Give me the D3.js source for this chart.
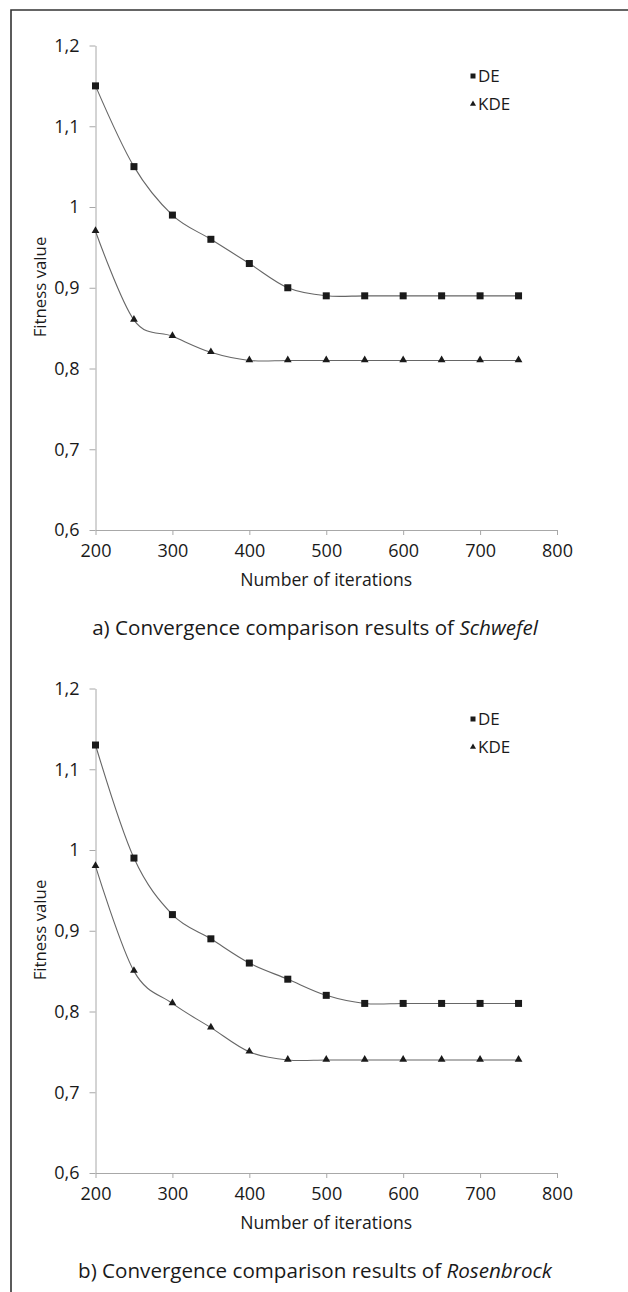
<!DOCTYPE html>
<html lang="en">
<head>
  <meta charset="UTF-8">
  <title>Convergence comparison</title>
  <script src="https://d3js.org/d3.v7.min.js"></script>
  <style>
    body { margin: 0; background: #fff; }
    svg text { font-family: "Open Sans", sans-serif; fill: #1a1a1a; }
  </style>
</head>
<body>
  <svg id="chart" width="628" height="1292"></svg>

  <script>
    // iterations shared by both panels
    const iterations = [200, 250, 300, 350, 400, 450, 500, 550, 600, 650, 700, 750];
    const xTicks = [200, 300, 400, 500, 600, 700, 800];
    const yTicks = [0.6, 0.7, 0.8, 0.9, 1.0, 1.1, 1.2];

    // a) Schwefel
    const schwefelDE  = [1.15, 1.05, 0.99, 0.96, 0.93, 0.90, 0.89, 0.89, 0.89, 0.89, 0.89, 0.89];
    const schwefelKDE = [0.97, 0.86, 0.84, 0.82, 0.81, 0.81, 0.81, 0.81, 0.81, 0.81, 0.81, 0.81];

    // b) Rosenbrock
    const rosenDE  = [1.13, 0.99, 0.92, 0.89, 0.86, 0.84, 0.82, 0.81, 0.81, 0.81, 0.81, 0.81];
    const rosenKDE = [0.98, 0.85, 0.81, 0.78, 0.75, 0.74, 0.74, 0.74, 0.74, 0.74, 0.74, 0.74];

    const svg = d3.select("#chart");

    // outer frame (top + left edges only)
    svg.append("path")
      .attr("d", "M11,1292 V10 H628")
      .attr("fill", "none").attr("stroke", "#333").attr("stroke-width", 1.6);

    const fmt = d => d3.format(".1~f")(d).replace(".", ",");

    function drawPanel(top, de, kde, caption, fname) {
      const g = svg.append("g").attr("transform", `translate(0,${top})`);
      const x = d3.scaleLinear().domain([200, 800]).range([95.5, 557]);
      const y = d3.scaleLinear().domain([0.6, 1.2]).range([530, 45.5]);

      // y axis
      const ya = g.append("g").attr("transform", `translate(${x(200)},0)`)
        .call(d3.axisLeft(y).tickValues(yTicks).tickFormat(fmt).tickSize(6).tickSizeOuter(0).tickPadding(10));
      // x axis
      const xa = g.append("g").attr("transform", `translate(0,${y(0.6)})`)
        .call(d3.axisBottom(x).tickValues(xTicks).tickSize(5).tickSizeOuter(0).tickPadding(9));
      [ya, xa].forEach(a => {
        a.select(".domain").attr("stroke", "#a8a8a8");
        a.selectAll(".tick line").attr("stroke", "#a8a8a8");
        a.selectAll(".tick text").style("font-size", "18px").attr("fill", "#1a1a1a");
      });

      const line = d3.line()
        .x((d, i) => x(iterations[i]))
        .y(d => y(d))
        .curve(d3.curveCatmullRom.alpha(0));

      [de, kde].forEach(s => {
        g.append("path").datum(s).attr("d", line)
          .attr("fill", "none").attr("stroke", "#666").attr("stroke-width", 1.1);
      });

      g.selectAll(".sq").data(de).join("rect")
        .attr("x", (d, i) => x(iterations[i]) - 3.5)
        .attr("y", d => y(d) - 3.5)
        .attr("width", 7).attr("height", 7).attr("fill", "#1a1a1a");

      const tri = d3.symbol().type(d3.symbolTriangle).size(26);
      g.selectAll(".tri").data(kde).join("path")
        .attr("d", tri)
        .attr("transform", (d, i) => `translate(${x(iterations[i])},${y(d) - 0.5})`)
        .attr("fill", "#1a1a1a");

      // legend
      g.append("rect").attr("x", 470.5).attr("y", 73.5).attr("width", 5).attr("height", 5).attr("fill", "#1a1a1a");
      g.append("text").attr("x", 478).attr("y", 82).style("font-size", "17px").text("DE");
      g.append("path").attr("d", d3.symbol().type(d3.symbolTriangle).size(16))
        .attr("transform", "translate(473,104)").attr("fill", "#1a1a1a");
      g.append("text").attr("x", 478).attr("y", 110).style("font-size", "17px").text("KDE");

      // axis titles
      g.append("text").attr("transform", "translate(46,287) rotate(-90)")
        .attr("text-anchor", "middle").style("font-size", "16.8px").text("Fitness value");
      g.append("text").attr("x", (x(200) + x(800)) / 2).attr("y", 586)
        .attr("text-anchor", "middle").style("font-size", "17.6px").text("Number of iterations");

      // caption
      const c = g.append("text").attr("x", 315).attr("y", 635)
        .attr("text-anchor", "middle").style("font-size", "20.6px");
      c.append("tspan").text(caption);
      c.append("tspan").style("font-style", "italic").text(fname);
    }

    drawPanel(0, schwefelDE, schwefelKDE, "a) Convergence comparison results of ", "Schwefel");
    drawPanel(643, rosenDE, rosenKDE, "b) Convergence comparison results of ", "Rosenbrock");
  </script>
</body>
</html>
